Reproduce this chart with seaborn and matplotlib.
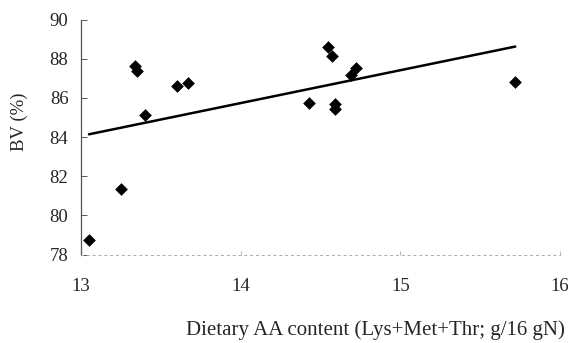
import matplotlib
matplotlib.use("Agg")
import matplotlib.pyplot as plt
import seaborn as sns
import pandas as pd

aa_content = [13.05, 13.25, 13.34, 13.35, 13.40, 13.60, 13.67, 14.43, 14.55,
              14.57, 14.59, 14.59, 14.69, 14.72, 15.72]
bv_percent = [78.74, 81.34, 87.63, 87.35, 85.13, 86.58, 86.77, 85.73, 88.59,
              88.13, 85.66, 85.42, 87.16, 87.50, 86.80]
x_ticks = [13, 14, 15, 16]
y_ticks = [78, 80, 82, 84, 86, 88, 90]

df = pd.DataFrame({"aa": aa_content, "bv": bv_percent})

sns.set_style("white")
plt.rcParams["font.family"] = ["Liberation Serif", "DejaVu Serif"]

fig = plt.figure(figsize=(5.72, 3.43), dpi=100)
ax = fig.add_axes([81 / 572, 1 - 254.5 / 343, 479 / 572, 235 / 343])

sns.regplot(data=df, x="aa", y="bv", ci=None, ax=ax, marker="D",
            scatter_kws={"s": 42, "color": "black", "edgecolor": "black",
                         "linewidths": 0, "alpha": 1, "zorder": 3},
            line_kws={"color": "black", "lw": 1.8})

ax.set_xlim(13, 16)
ax.set_ylim(78, 90)
ax.set_xticks(x_ticks)
ax.set_yticks(y_ticks)
ax.set_xticklabels([str(t) for t in x_ticks])
ax.set_yticklabels([str(t) for t in y_ticks])

for s in ["top", "right"]:
    ax.spines[s].set_visible(False)
ax.spines["left"].set_color("#555555")
ax.spines["left"].set_linewidth(0.9)
ax.spines["bottom"].set_color("#aaaaaa")
ax.spines["bottom"].set_linewidth(0.7)
ax.spines["bottom"].set_linestyle((0, (2, 4)))

ax.tick_params(axis="y", direction="in", length=4, width=0.7, color="#555555",
               labelsize=13.5, pad=9, left=True)
ax.tick_params(axis="x", direction="in", length=3, width=0.6, color="#aaaaaa",
               labelsize=13.5, pad=17, bottom=True)

ax.set_xlabel("Dietary AA content (Lys+Met+Thr; g/16 gN)", fontsize=15)
ax.set_ylabel("BV (%)", fontsize=13.5)
ax.xaxis.set_label_coords(0.615, -0.321)
ax.yaxis.set_label_coords(-0.128, 0.564)
ax.xaxis.label.set_va("center")
ax.yaxis.label.set_va("center")

fig.savefig("out.png", dpi=100, facecolor="white")
